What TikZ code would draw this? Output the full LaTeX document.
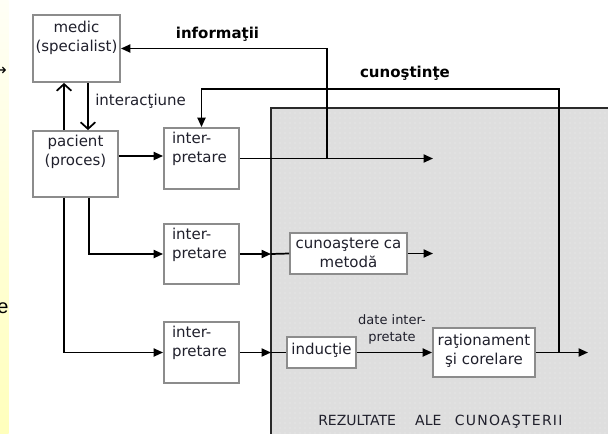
\documentclass[tikz,border=0pt]{standalone}
\usepackage{fontspec}
\setmainfont{DejaVu Sans}
\newfontfamily\slidefont{Liberation Sans}
\usetikzlibrary{arrows.meta,patterns.meta}
\definecolor{boxgray}{HTML}{8C8C8C}
\definecolor{txt}{HTML}{20202C}
\definecolor{panel}{HTML}{DEDEDE}
\definecolor{paneldot}{HTML}{EEEEEE}
\definecolor{panelline}{HTML}{2A2A2A}
\definecolor{stripTop}{HTML}{FFFFF6}
\definecolor{stripBot}{HTML}{FFFFBC}
\newcommand{\bxtext}[5]{\parbox[c][#1][t]{#2}{#3\vspace*{#4}\strut #5}}
\begin{document}
\begin{tikzpicture}[x=0.75pt,y=-0.75pt,
  box/.style={draw=boxgray, line width=1.4pt, fill=white, inner sep=0pt, text=txt, font=\fontsize{11.25}{14.25}\selectfont},
  conn/.style={line width=1.3pt, draw=black},
  arr/.style={conn, -{Triangle[length=7pt,width=6pt]}},
  oarr/.style={conn, -{Straight Barb[length=5pt,width=11pt]}},
  lbl/.style={text=txt, inner sep=0pt, font=\fontsize{11.25}{14.25}\selectfont},
  blbl/.style={text=black, inner sep=0pt, font=\bfseries\fontsize{11.25}{14.25}\selectfont},
]
\useasboundingbox (0,0) rectangle (608,433);
\clip (0,0) rectangle (608,433);

% left slide strip
\shade[top color=stripTop, bottom color=stripBot] (0,0) rectangle (8.5,433);
\begin{scope}
  \clip (0,0) rectangle (8.5,433);
  \node[anchor=east, inner sep=0pt, font=\fontsize{12}{12}\selectfont] (frag1) at (7,71) {→};
  \node[anchor=base east, inner sep=0pt, font=\slidefont\fontsize{15}{15}\selectfont] (frag2) at (8.8,313) {e};
\end{scope}

% results panel
\fill[panel] (271,108) rectangle (612,440);
\fill[pattern={Dots[distance=3.75pt,radius=0.45pt]}, pattern color=paneldot] (271,108) rectangle (612,440);
\draw[panelline, line width=1.5pt] (271,440) -- (271,108) -- (612,108);

% boxes
\node[box] (medic) at (76.5,48.5) {\bxtext{50.25pt}{65.25pt}{\centering}{2.8pt}{medic\\(specialist)}};
\node[box] (pacient) at (75.5,164) {\bxtext{49.5pt}{63.75pt}{\centering}{2pt}{pacient\\(proces)}};
\node[box] (interp1) at (201.5,158.5) {\bxtext{45.75pt}{56.25pt}{\raggedright\leftskip=6pt}{1.3pt}{inter-\\pretare}};
\node[box] (interp2) at (201.5,254) {\bxtext{45pt}{56.25pt}{\raggedright\leftskip=6pt}{1.3pt}{inter-\\pretare}};
\node[box] (interp3) at (201.5,352.5) {\bxtext{45.75pt}{56.25pt}{\raggedright\leftskip=6pt}{1.3pt}{inter-\\pretare}};
\node[box] (cun) at (348.5,253.5) {\bxtext{30.75pt}{87.75pt}{\centering}{2pt}{cunoaştere ca\\metodă}};
\node[box] (ind) at (321.5,352.5) {\bxtext{23.25pt}{51.75pt}{\centering}{2.8pt}{inducţie}};
\node[box] (rat) at (484,352.5) {\bxtext{36.75pt}{76.5pt}{\centering}{2.8pt}{raţionament\\şi corelare}};

% labels
\node[blbl, anchor=base] (linfo) at (217.5,38.5) {informaţii};
\node[blbl, anchor=base] (lcun) at (405,77.5) {cunoştinţe};
\node[lbl, anchor=base west] (linter) at (95,105) {interacţiune};
\node[lbl, font=\fontsize{9.75}{12.75}\selectfont, align=center] (ldate) at (392,329) {date inter-\\pretate};
\node[lbl, font=\fontsize{10.5}{12}\selectfont, anchor=base west] (lrez) at (318,425) {REZULTATE\hspace{14.5pt}ALE\hspace{10pt}{\addfontfeature{LetterSpace=9}CUNOAŞTERII}};

% medic <-> pacient
\coordinate (pu) at ([xshift=-8.6pt]pacient.north);
\draw[oarr] (pu) -- (pu |- medic.south);
\coordinate (md) at ([xshift=8.6pt]medic.south);
\draw[oarr] (md) -- (md |- pacient.north);

% pacient -> interpretare
\coordinate (pR) at ([yshift=6pt]pacient.east);
\draw[arr] (pR) -- (pR -| interp1.west);
\coordinate (pb2) at ([xshift=10.1pt]pacient.south);
\draw[arr] (pb2) |- (interp2.west);
\coordinate (pb3) at ([xshift=-8.6pt]pacient.south);
\draw[arr] (pb3) |- (interp3.west);

% row 1
\coordinate (o1) at (433,158.5);
\coordinate (j1) at (327,158.5);
\draw[arr] (interp1.east) -- (o1);
\draw[arr] (j1) |- (medic.east);

% row 2
\coordinate (e2) at (271,254);
\coordinate (o2) at (433,253.5);
\draw[arr] (interp2.east) -- (e2);
\draw[conn] (e2) -- (cun.west);
\draw[arr] (cun.east) -- (o2);

% row 3
\coordinate (e3) at (271,352.5);
\draw[arr] (interp3.east) -- (e3);
\draw[conn] (e3) -- (ind.west);
\draw[arr] (ind.east) -- (rat.west);
\coordinate (o3) at (588,352.5);
\coordinate (j2) at (559,352.5);
\coordinate (k2) at (559,89);
\draw[arr] (rat.east) -- (o3);
\draw[arr] (j2) -- (k2) -| (interp1.north);
\end{tikzpicture}
\end{document}
